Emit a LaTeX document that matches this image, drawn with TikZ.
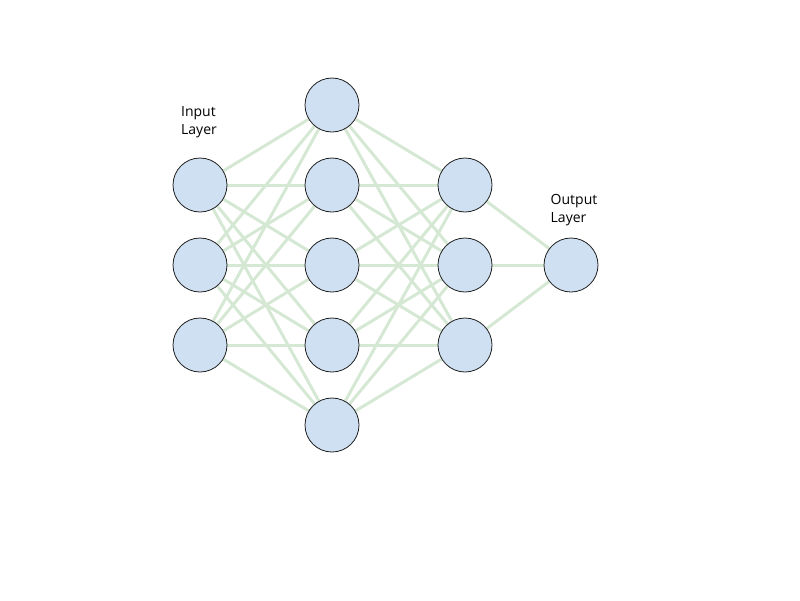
\documentclass[tikz,border=0pt]{standalone}
\usepackage{fontspec}
\setmainfont{Open Sans}
\usepackage{tikz}
\usetikzlibrary{backgrounds}
\definecolor{neuronfill}{HTML}{CFE0F2}
\definecolor{neurondraw}{HTML}{1F1F1F}
\definecolor{linkgreen}{HTML}{D5E8D4}
\begin{document}
\begin{tikzpicture}[x=1pt,y=-1pt,font=\fontsize{14}{18}\selectfont,
  neuron/.style={circle,fill=neuronfill,draw=neurondraw,line width=0.8pt,minimum size=54pt,inner sep=0pt},
  link/.style={draw=linkgreen,line width=3pt},
  layerlabel/.style={align=left,inner sep=0pt}]
\useasboundingbox (0,0) rectangle (800,600);
\node[neuron] (in1) at (200,185) {};
\node[neuron] (in2) at (200,265) {};
\node[neuron] (in3) at (200,345) {};
\node[neuron] (ha1) at (332,105) {};
\node[neuron] (ha2) at (332,185) {};
\node[neuron] (ha3) at (332,265) {};
\node[neuron] (ha4) at (332,345) {};
\node[neuron] (ha5) at (332,425) {};
\node[neuron] (hb1) at (465,185) {};
\node[neuron] (hb2) at (465,265) {};
\node[neuron] (hb3) at (465,345) {};
\node[neuron] (out) at (571,265) {};
\node[layerlabel] (inlabel) at (199,122) {Input\\Layer};
\node[layerlabel] (outlabel) at (574,210) {Output\\Layer};
% connections, drawn under the neurons
\begin{scope}[on background layer]
\foreach \i in {1,2,3}
  \foreach \j in {1,...,5}
    \draw[link] (in\i) -- (ha\j);
\foreach \j in {1,...,5}
  \foreach \k in {1,2,3}
    \draw[link] (ha\j) -- (hb\k);
\foreach \k in {1,2,3}
  \draw[link] (hb\k) -- (out);
\end{scope}
\end{tikzpicture}
\end{document}
